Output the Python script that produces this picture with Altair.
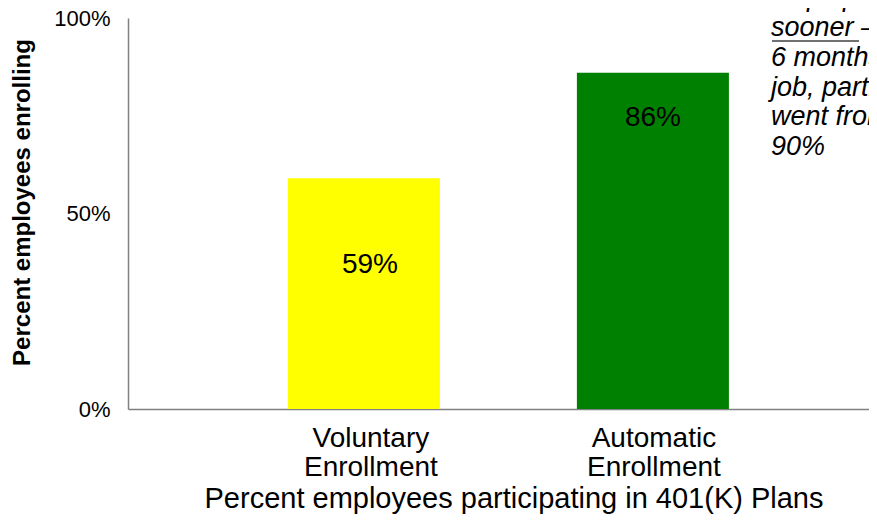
import altair as alt
import pandas as pd

categories = ["Voluntary Enrollment", "Automatic Enrollment"]
values = [0.59, 0.86]
labels = ["59%", "86%"]
colors = ["#FFFF00", "#008000"]
y_ticks = [0, 0.5, 1.0]
note_lines = ["helps people save", "sooner \u2013 within", "6 months on the",
              "job, participation", "went from 26% to", "90%"]

df = pd.DataFrame({"category": categories, "value": values, "label": labels})
FONT = "Liberation Sans"

x_enc = alt.X(
    "category:N", sort=categories,
    scale=alt.Scale(paddingInner=0.474, paddingOuter=0.519, align=0.533),
    axis=alt.Axis(
        title="Percent employees participating in 401(K) Plans",
        labelAngle=0, labelExpr="split(datum.label, ' ')",
        labelFontSize=28, labelLineHeight=29, labelPadding=15, labelColor="#000000",
        labelFont=FONT, ticks=False, tickSize=0, grid=False,
        labelOffset={"condition": {"test": "datum.value == 'Voluntary Enrollment'", "value": 7}, "value": 1},
        domainColor="#808080", domainWidth=1.5,
        titleFontSize=29, titleFontWeight="normal", titleFont=FONT, titleColor="#000000",
        titleBaseline="alphabetic", titleY=98, titleX=385.5,
    ),
)
y_enc = alt.Y(
    "value:Q", scale=alt.Scale(domain=[0, 1]),
    axis=alt.Axis(
        values=y_ticks, format="%", title="Percent employees enrolling",
        labelFontSize=22, labelPadding=18, labelColor="#000000", labelFont=FONT,
        ticks=False, tickSize=0, grid=False, domainColor="#808080", domainWidth=1.5,
        titleFontSize=24, titleFontWeight="bold", titleFont=FONT, titleColor="#000000",
        titleAngle=270, titleX=-106, titleY=184, titleBaseline="middle", titleAlign="center",
    ),
)

base = alt.Chart(df)
bars = base.mark_bar().encode(
    x=x_enc, y=y_enc,
    color=alt.Color("category:N", scale=alt.Scale(domain=categories, range=colors), legend=None),
)
txt1 = base.transform_filter(alt.datum.category == categories[0]).mark_text(
    font=FONT, fontSize=28, color="#000000", baseline="alphabetic", dy=95, dx=6
).encode(x=alt.X("category:N", sort=categories), y="value:Q", text="label:N")
txt2 = base.transform_filter(alt.datum.category == categories[1]).mark_text(
    font=FONT, fontSize=28, color="#000000", baseline="alphabetic", dy=53
).encode(x=alt.X("category:N", sort=categories), y="value:Q", text="label:N")

note = alt.Chart(pd.DataFrame({"t": [note_lines]})).mark_text(
    font=FONT, fontSize=27, fontStyle="italic", color="#000000", align="left",
    baseline="alphabetic", lineHeight=29.75
).encode(x=alt.value(643), y=alt.value(-11.7), text="t")

underline = alt.Chart(pd.DataFrame({"a": [0]})).mark_rule(
    color="#404040", strokeWidth=1.5
).encode(x=alt.value(644), x2=alt.value(731), y=alt.value(23))

chart = alt.layer(bars, txt1, txt2, note, underline).properties(
    width=741, height=391,
    autosize=alt.AutoSizeParams(type="none"),
    padding={"left": 120, "top": 10, "right": 0, "bottom": 105},
).configure_view(stroke=None)

chart.save("out.html", embed_options={"renderer": "svg", "actions": False})
